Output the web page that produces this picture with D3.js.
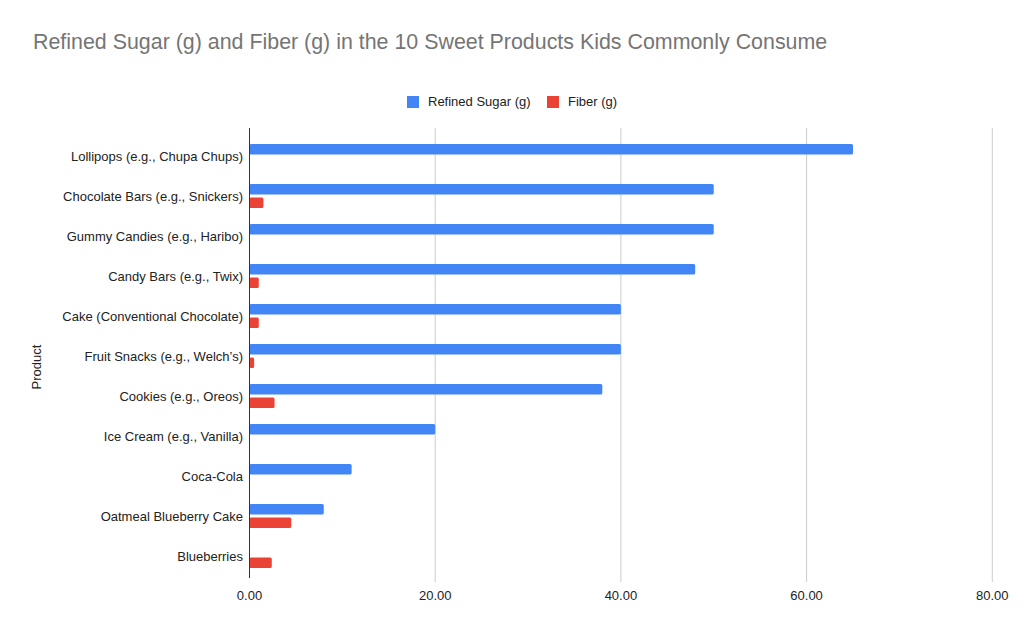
<!DOCTYPE html>
<html>
<head>
<meta charset="utf-8">
<script src="https://cdn.jsdelivr.net/npm/d3@7"></script>
<style>
  body { margin: 0; background: #fff; }
  text { font-family: Arial, "Liberation Sans", sans-serif; }
</style>
</head>
<body>
<div id="chart"></div>
<script>
// data
var products = [
  "Lollipops (e.g., Chupa Chups)",
  "Chocolate Bars (e.g., Snickers)",
  "Gummy Candies (e.g., Haribo)",
  "Candy Bars (e.g., Twix)",
  "Cake (Conventional Chocolate)",
  "Fruit Snacks (e.g., Welch\u2019s)",
  "Cookies (e.g., Oreos)",
  "Ice Cream (e.g., Vanilla)",
  "Coca-Cola",
  "Oatmeal Blueberry Cake",
  "Blueberries"
];
var sugar = [65, 50, 50, 48, 40, 40, 38, 20, 11, 8, 0];
var fiber = [0, 1.5, 0, 1, 1, 0.5, 2.7, 0, 0, 4.5, 2.4];
var seriesNames = ["Refined Sugar (g)", "Fiber (g)"];
var seriesColors = ["#4285f4", "#ea4335"];
var xTicks = [0, 20, 40, 60, 80];

var width = 1024,
    height = 634;

var svg = d3.select('#chart')
    .append('svg')
    .attr('width', width)
    .attr('height', height);

var plotLeft = 249.5, plotRight = 992.3, plotTop = 136, plotBottom = 576;

var x = d3.scaleLinear().domain([0, 80]).range([plotLeft, plotRight]);

var y = d3.scaleBand().domain(products).range([plotTop, plotBottom]);

var inner = d3.scaleBand().domain([0, 1]).range([8, 32]).paddingInner(0.22);

// title
svg.append('text')
    .attr('x', 33)
    .attr('y', 49)
    .attr('fill', '#757575')
    .style('font-size', '21.4px')
    .text('Refined Sugar (g) and Fiber (g) in the 10 Sweet Products Kids Commonly Consume');

// legend
var legend = svg.append('g').attr('class', 'legend');
var legendX = [407, 547];
seriesNames.forEach(function(name, i) {
    legend.append('rect')
        .attr('x', legendX[i])
        .attr('y', 96)
        .attr('width', 12)
        .attr('height', 12)
        .attr('fill', seriesColors[i]);
    legend.append('text')
        .attr('x', legendX[i] + 21)
        .attr('y', 106)
        .attr('fill', '#222')
        .style('font-size', '13px')
        .text(name);
});

// gridlines
svg.append('g')
    .selectAll('line')
    .data(xTicks.slice(1))
    .enter()
    .append('line')
    .attr('x1', function(d) { return x(d); })
    .attr('x2', function(d) { return x(d); })
    .attr('y1', 128)
    .attr('y2', 582)
    .attr('stroke', '#cccccc')
    .attr('stroke-width', 1);

// bars
var rows = products.map(function(p, i) {
    return { name: p, values: [sugar[i], fiber[i]] };
});

var group = svg.append('g')
    .selectAll('.row')
    .data(rows)
    .enter()
    .append('g')
    .attr('class', 'row')
    .attr('transform', function(d) { return 'translate(0,' + y(d.name) + ')'; });

group.selectAll('rect')
    .data(function(d) { return d.values.map(function(v, i) { return { v: v, s: i }; }); })
    .enter()
    .filter(function(d) { return d.v > 0; })
    .append('rect')
    .attr('x', x(0))
    .attr('y', function(d) { return inner(d.s); })
    .attr('height', inner.bandwidth())
    .attr('width', function(d) { return x(d.v) - x(0); })
    .attr('rx', 1.5)
    .attr('fill', function(d) { return seriesColors[d.s]; });

// category labels
group.append('text')
    .attr('x', 243)
    .attr('y', y.bandwidth() / 2)
    .attr('dy', '0.35em')
    .attr('text-anchor', 'end')
    .attr('fill', '#222')
    .style('font-size', '13px')
    .text(function(d) { return d.name; });

// baseline
svg.append('line')
    .attr('x1', x(0))
    .attr('x2', x(0))
    .attr('y1', 128)
    .attr('y2', 578)
    .attr('stroke', '#333')
    .attr('stroke-width', 1);

// x tick labels
svg.append('g')
    .selectAll('text')
    .data(xTicks)
    .enter()
    .append('text')
    .attr('x', function(d) { return x(d); })
    .attr('y', 600)
    .attr('text-anchor', 'middle')
    .attr('fill', '#222')
    .style('font-size', '13px')
    .text(function(d) { return d3.format('.2f')(d); });

// y axis title
svg.append('text')
    .attr('transform', 'translate(41,367) rotate(-90)')
    .attr('text-anchor', 'middle')
    .attr('fill', '#222')
    .style('font-size', '13px')
    .text('Product');
</script>
</body>
</html>
